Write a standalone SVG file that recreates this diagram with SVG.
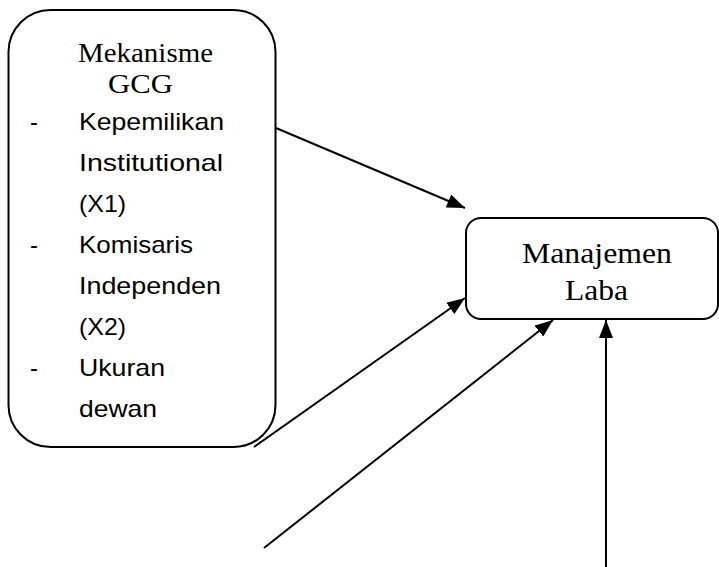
<svg xmlns="http://www.w3.org/2000/svg" width="719" height="567" viewBox="0 0 719 567">
<style>
.box{fill:#fff;stroke:#000;stroke-width:2}
.ser{font-family:"Liberation Serif","Times New Roman",serif;fill:#000}
.san{font-family:"Liberation Sans",Arial,sans-serif;font-size:24px;fill:#000}
.con{stroke:#000;stroke-width:2;fill:none;marker-end:url(#ah)}
</style>
<defs>
<marker id="ah" viewBox="0 0 18 14" refX="18" refY="7" markerWidth="18" markerHeight="14" markerUnits="userSpaceOnUse" orient="auto">
<path d="M0,0 L18,7 L0,14 z" fill="#000"/>
</marker>
</defs>
<g id="gcg">
<rect class="box" x="8.5" y="10" width="267" height="437" rx="42" ry="42"/>
<text class="ser" font-size="27" x="78" y="62" textLength="135" lengthAdjust="spacingAndGlyphs">Mekanisme</text>
<text class="ser" font-size="27" x="108" y="93" textLength="65" lengthAdjust="spacingAndGlyphs">GCG</text>
<text class="san" x="30" y="130">-</text>
<text class="san" x="79" y="130" textLength="145" lengthAdjust="spacingAndGlyphs">Kepemilikan</text>
<text class="san" x="79" y="171" textLength="144" lengthAdjust="spacingAndGlyphs">Institutional</text>
<text class="san" x="79" y="212" textLength="47" lengthAdjust="spacingAndGlyphs">(X1)</text>
<text class="san" x="30" y="253">-</text>
<text class="san" x="79" y="253" textLength="114" lengthAdjust="spacingAndGlyphs">Komisaris</text>
<text class="san" x="79" y="294" textLength="142" lengthAdjust="spacingAndGlyphs">Independen</text>
<text class="san" x="79" y="335" textLength="47" lengthAdjust="spacingAndGlyphs">(X2)</text>
<text class="san" x="30" y="376">-</text>
<text class="san" x="79" y="376" textLength="86" lengthAdjust="spacingAndGlyphs">Ukuran</text>
<text class="san" x="79" y="417" textLength="78" lengthAdjust="spacingAndGlyphs">dewan</text>
</g>
<g id="laba">
<rect class="box" x="466" y="218" width="252" height="101" rx="15" ry="15"/>
<text class="ser" font-size="29" x="522" y="263" textLength="150" lengthAdjust="spacingAndGlyphs">Manajemen</text>
<text class="ser" font-size="29" x="565" y="300" textLength="63" lengthAdjust="spacingAndGlyphs">Laba</text>
</g>
<g id="connectors">
<line class="con" x1="276" y1="128" x2="465" y2="208"/>
<line class="con" x1="254" y1="447" x2="465" y2="298"/>
<line class="con" x1="264" y1="548" x2="553" y2="320"/>
<line class="con" x1="606" y1="567" x2="606" y2="320"/>
</g>
</svg>
